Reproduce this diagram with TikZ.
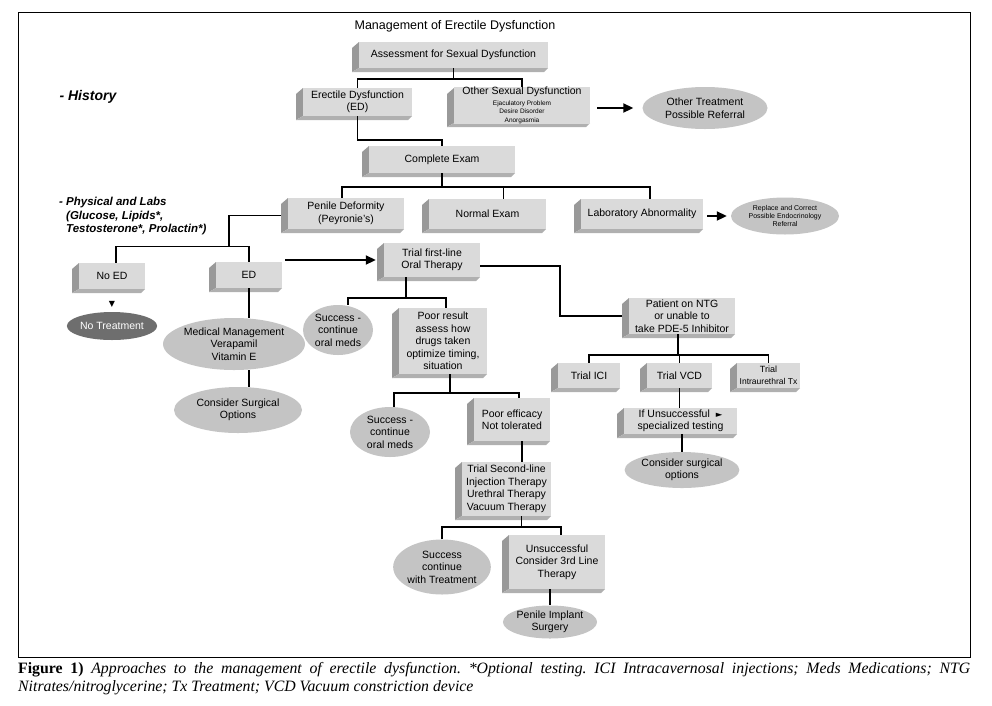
\documentclass[tikz,border=0pt]{standalone}
\usepackage{fontspec}
\setmainfont{Liberation Sans}
\newfontfamily\capfont{Liberation Serif}
\newfontfamily\symfont{DejaVu Sans}
\usetikzlibrary{shapes.geometric,arrows.meta}
\definecolor{frontg}{HTML}{DADADA}
\definecolor{sideg}{HTML}{999999}
\definecolor{botg}{HTML}{B0B0B0}
\definecolor{ellg}{HTML}{C4C4C4}
\definecolor{darkell}{HTML}{6E6E6E}
\tikzset{
  frontface/.style={fill=frontg, inner sep=0pt, align=center, font=\fontsize{10.5}{12.5}\selectfont},
  ell/.style={ellipse, fill=ellg, inner sep=0pt, align=center, font=\fontsize{10.5}{12.5}\selectfont},
  conn/.style={line width=1.9pt},
  arr/.style={line width=1.9pt, -{Triangle[length=10pt,width=9pt]}},
}
\newcommand\tdbox[6]{%
  \fill[sideg] (#2,#3+6) -- (#2+7,#3) -- (#2+7,#5-4) -- (#2,#5) -- cycle;
  \fill[botg] (#2,#5) -- (#2+7,#5-4) -- (#4,#5-4) -- (#4-4,#5) -- cycle;
  \node[frontface, minimum width={(#4-#2-7)*1pt}, minimum height={(#5-#3-4)*1pt}] (#1) at ({(#2+7+#4)/2},{(#3+#5-4)/2}) {#6};
}
\begin{document}
\begin{tikzpicture}[x=1pt,y=-1pt]
\fill[white] (0,0) rectangle (992,705);
\useasboundingbox (0,0) rectangle (992,705);
\draw[line width=0.8pt] (18,12) rectangle (970,657);

\node[font=\fontsize{12.5}{14}\selectfont] (title) at (455,26) {Management of Erectile Dysfunction};
\node[anchor=west, font=\bfseries\itshape\fontsize{14}{16}\selectfont] (hist) at (56,97) {- History};
\node[anchor=north west, align=left, inner sep=0pt, font=\bfseries\itshape\fontsize{11.5}{13.5}\selectfont] (phys) at (59,197) {- Physical and Labs\\\hspace*{7pt}(Glucose, Lipids*,\\\hspace*{7pt}Testosterone*, Prolactin*)};

% boxes
\tdbox{assess}{352}{42}{548}{72}{Assessment for Sexual Dysfunction}
\tdbox{ed}{296}{88}{412}{120}{Erectile Dysfunction\\(ED)}
\tdbox{other}{447}{88}{590}{127}{Other Sexual Dysfunction\\[-2pt]{\fontsize{6.5}{7.5}\selectfont Ejaculatory Problem}\\[-4pt]{\fontsize{6.5}{7.5}\selectfont Desire Disorder}\\[-4pt]{\fontsize{6.5}{7.5}\selectfont Anorgasmia}}
\tdbox{exam}{362}{146}{515}{177}{Complete Exam}
\tdbox{penile}{281}{198}{404}{233}{Penile Deformity\\(Peyronie's)}
\tdbox{normal}{422}{199}{546}{233}{Normal Exam}
\tdbox{lab}{574}{199}{703}{233}{Laboratory Abnormality}
\tdbox{noed}{72}{263}{145}{293}{No ED}
\tdbox{ed2}{209}{262}{282}{292}{ED}
\tdbox{trial}{377}{243}{480}{281}{Trial first-line\\Oral Therapy}
\tdbox{poorres}{392}{308}{487}{378}{Poor result\\assess how\\drugs taken\\optimize timing,\\situation}
\tdbox{patient}{622}{298}{735}{338}{Patient on NTG\\or unable to\\take PDE-5 Inhibitor}
\tdbox{ici}{551}{363}{620}{392}{Trial ICI}
\tdbox{vcd}{640}{363}{712}{392}{Trial VCD}
\tdbox{intra}{730}{363}{800}{392}{{\fontsize{9}{10}\selectfont Trial}\\{\fontsize{8.5}{10}\selectfont Intraurethral Tx}}
\tdbox{pooreff}{467}{398}{550}{445}{Poor efficacy\\Not tolerated}
\tdbox{trialtwo}{455}{462}{551}{520}{Trial Second-line\\Injection Therapy\\Urethral Therapy\\Vacuum Therapy}
\tdbox{ifuns}{617}{408}{737}{438}{If Unsuccessful\ \ {\symfont\fontsize{8.5}{9}\selectfont ►}\\specialized testing}
\tdbox{unsucc}{502}{535}{605}{593}{Unsuccessful\\Consider 3rd Line\\Therapy}

% ellipses
\node[ell, minimum width=125pt, minimum height=42pt] (othertx) at (705,108) {Other Treatment\\Possible Referral};
\node[ell, minimum width=108pt, minimum height=37pt, font=\fontsize{7}{8}\selectfont] (replace) at (785,216) {Replace and Correct\\Possible Endocrinology\\Referral};
\node[ell, fill=darkell, text=white, minimum width=90pt, minimum height=28pt] (notx) at (112,326) {No Treatment};
\node[font=\symfont\fontsize{8}{8}\selectfont, inner sep=0pt] (tri) at (112,304) {▼};
\node[ell, minimum width=132pt, minimum height=52pt] (med) at (234,344) {Medical Management\\Verapamil\\Vitamin E};
\node[ell, minimum width=128pt, minimum height=46pt] (surg) at (238,410) {Consider Surgical\\Options};
\node[ell, minimum width=70pt, minimum height=50pt] (succone) at (338,330) {Success -\\continue\\oral meds};
\node[ell, minimum width=80pt, minimum height=50pt] (succtwo) at (390,432) {Success -\\continue\\oral meds};
\node[ell, minimum width=90pt, minimum height=55pt] (succthree) at (442,567) {Success\\continue\\with Treatment};
\node[ell, minimum width=90pt, minimum height=33pt] (implant) at (550,622) {Penile Implant\\Surgery};
\node[ell, minimum width=107pt, minimum height=36pt] (surgtwo) at (682,470) {Consider surgical\\options};

% connectors
\draw[conn] (assess.south) -- ++(0,11) coordinate (j1);
\draw[conn] (ed.north) |- (j1) -| (other.north);
\draw[arr] (other.east |- othertx.west) ++(7,0) -- ([xshift=-9pt]othertx.west);
\draw[conn] (ed.south) -- ++(0,24) -| (exam.north);
\draw[conn] (exam.south) -- ++(0,14) coordinate (j2);
\draw[conn] ([xshift=-4pt]penile.north) |- (j2) -| ([xshift=8pt]lab.north);
\draw[conn] ([xshift=16pt]normal.north) -- ++(0,-12);
\draw[arr] (lab.east |- replace.west) ++(4,0) -- ([xshift=-4pt]replace.west);
\draw[conn] ([xshift=-7pt,yshift=-2pt]penile.west) -- ++(-52,0) -- ++(0,31) coordinate (j3);
\draw[conn] ([xshift=4pt]noed.north) |- (j3) -| (ed2.north);
\draw[arr] (ed2.east |- trial.west) ++(3,0) -- ([xshift=-8pt]trial.west);
\draw[conn] (ed2.south) -- (ed2.south |- med.north);
\draw[conn] (ed2.south |- med.south) -- (ed2.south |- surg.north);
\draw[conn] ([xshift=-26pt]trial.south) -- ++(0,21) coordinate (j5);
\draw[conn] ([xshift=10pt]succone.north) |- (j5) -| ([xshift=3pt]poorres.north);
\draw[conn] ([yshift=-6pt]trial.east) -- ++(80,0) |- ([xshift=-7pt]patient.west);
\draw[conn] ([xshift=7pt]poorres.south) -- ++(0,19) coordinate (j6);
\draw[conn] ([xshift=4pt]succtwo.north) |- (j6) -| ([xshift=7pt]pooreff.north);
\draw[conn] ([xshift=10pt]pooreff.south) -- ++(0,21);
\draw[conn] ([xshift=15pt]trialtwo.south) -- ++(0,11) coordinate (j7);
\draw[conn] (succthree.north) |- (j7) -| ([xshift=4pt]unsucc.north);
\draw[conn] (unsucc.south -| implant.north) -- (implant.north);
\draw[conn] ([xshift=-4pt]patient.south) -- ++(0,21) coordinate (j8);
\draw[conn] (ici.north) |- (j8) -| (intra.north);
\draw[conn] (vcd.north) -- ++(0,-8);
\draw[conn] (vcd.south) -- (vcd.south |- ifuns.north);
\draw[conn] (surgtwo.north |- ifuns.south) -- (surgtwo.north);

% caption
\node[anchor=north west, inner sep=0pt, text width=952pt, align=justify, font=\capfont\fontsize{15.8}{18}\selectfont\frenchspacing] (cap) at (18,662) {{\bfseries Figure 1)} \itshape Approaches to the management of erectile dysfunction. *Optional testing. ICI Intracavernosal injections; Meds Medications; NTG\linebreak Nitrates/nitroglycerine; Tx Treatment; VCD Vacuum constriction device};
\end{tikzpicture}
\end{document}
